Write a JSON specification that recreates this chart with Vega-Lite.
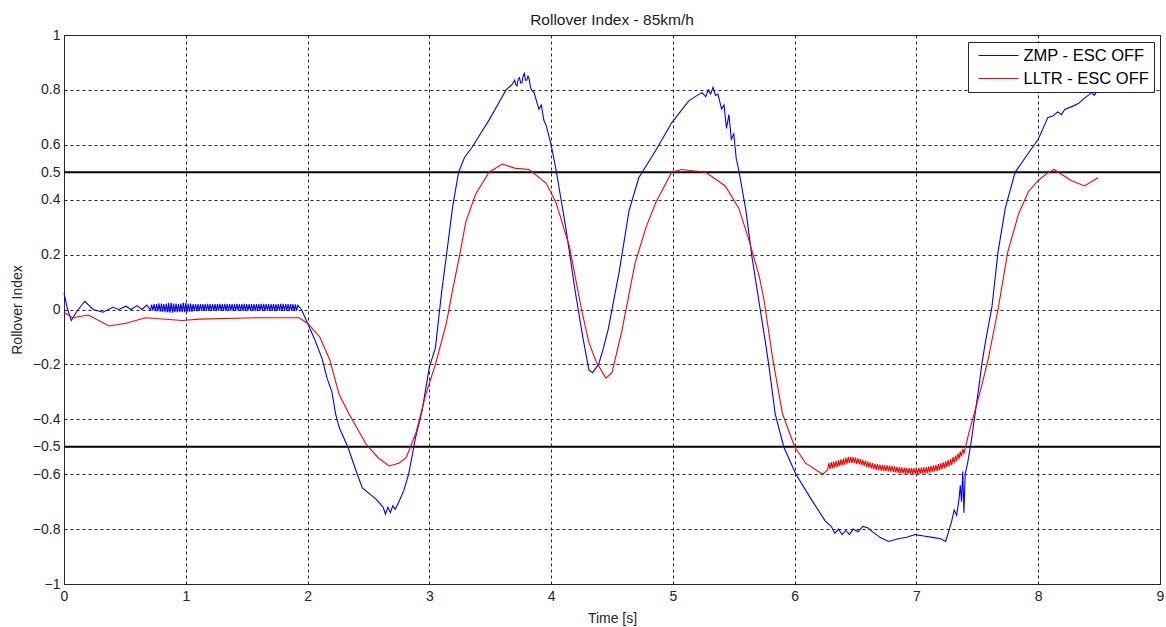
{
  "$schema": "https://vega.github.io/schema/vega-lite/v6.json",
  "width": 1096,
  "height": 549,
  "autosize": {"type": "none"},
  "padding": {"left": 64, "top": 35, "right": 6, "bottom": 43},
  "background": "white",
  "config": {
    "font": "Liberation Sans",
    "view": {"stroke": "#262626", "strokeWidth": 1},
    "axis": {"labelFont": "Liberation Sans", "titleFont": "Liberation Sans", "labelFontSize": 14, "titleFontSize": 14, "titleFontWeight": "normal", "labelColor": "#262626", "titleColor": "#262626", "domainColor": "#262626", "ticks": false, "gridColor": "#262626", "gridDash": [3, 3], "gridWidth": 1, "gridOpacity": 1}
  },
  "title": {"text": "Rollover Index - 85km/h", "font": "Liberation Sans", "fontSize": 15.5, "fontWeight": "normal", "color": "#1a1a1a", "offset": 0},
  "datasets": {
    "zmp": [
      {"t": 0, "v": 0.06}, {"t": 0.03, "v": 0.0}, {"t": 0.06, "v": -0.04}, {"t": 0.1, "v": -0.01},
      {"t": 0.17, "v": 0.03}, {"t": 0.24, "v": 0.0}, {"t": 0.32, "v": -0.01}, {"t": 0.4, "v": 0.008},
      {"t": 0.45, "v": 0.0}, {"t": 0.51, "v": 0.012}, {"t": 0.55, "v": 0.0}, {"t": 0.6, "v": 0.014},
      {"t": 0.64, "v": 0.0}, {"t": 0.68, "v": 0.016}, {"t": 0.71, "v": -0.002},
      {"t": 0.72, "v": 0.018}, {"t": 0.73, "v": -0.004}, {"t": 0.74, "v": 0.02}, {"t": 0.75, "v": -0.006},
      {"t": 0.76, "v": 0.02}, {"t": 0.77, "v": -0.006}, {"t": 0.78, "v": 0.022}, {"t": 0.79, "v": -0.008},
      {"t": 0.8, "v": 0.022}, {"t": 0.81, "v": -0.008}, {"t": 0.82, "v": 0.02}, {"t": 0.83, "v": -0.01},
      {"t": 0.84, "v": 0.022}, {"t": 0.85, "v": -0.01}, {"t": 0.86, "v": 0.024}, {"t": 0.87, "v": -0.012},
      {"t": 0.88, "v": 0.024}, {"t": 0.89, "v": -0.012}, {"t": 0.9, "v": 0.022}, {"t": 0.91, "v": -0.01},
      {"t": 0.92, "v": 0.022}, {"t": 0.93, "v": -0.01}, {"t": 0.94, "v": 0.02}, {"t": 0.95, "v": -0.008},
      {"t": 0.96, "v": 0.022}, {"t": 0.97, "v": -0.01}, {"t": 0.98, "v": 0.024}, {"t": 0.99, "v": -0.01},
      {"t": 1.0, "v": 0.024}, {"t": 1.01, "v": -0.01}, {"t": 1.02, "v": 0.022}, {"t": 1.03, "v": -0.008},
      {"t": 1.04, "v": 0.022}, {"t": 1.05, "v": -0.008}, {"t": 1.06, "v": 0.02}, {"t": 1.07, "v": -0.006},
      {"t": 1.08, "v": 0.02}, {"t": 1.09, "v": -0.006}, {"t": 1.1, "v": 0.02}, {"t": 1.11, "v": -0.005},
      {"t": 1.12, "v": 0.02}, {"t": 1.13, "v": -0.005}, {"t": 1.14, "v": 0.02}, {"t": 1.15, "v": -0.005},
      {"t": 1.16, "v": 0.02}, {"t": 1.17, "v": -0.005}, {"t": 1.18, "v": 0.021}, {"t": 1.19, "v": -0.004},
      {"t": 1.2, "v": 0.02}, {"t": 1.21, "v": -0.004}, {"t": 1.22, "v": 0.02}, {"t": 1.23, "v": -0.005},
      {"t": 1.24, "v": 0.02}, {"t": 1.25, "v": -0.005}, {"t": 1.26, "v": 0.02}, {"t": 1.27, "v": -0.004},
      {"t": 1.28, "v": 0.021}, {"t": 1.29, "v": -0.004}, {"t": 1.3, "v": 0.02}, {"t": 1.31, "v": -0.005},
      {"t": 1.32, "v": 0.021}, {"t": 1.33, "v": -0.005}, {"t": 1.34, "v": 0.02}, {"t": 1.35, "v": -0.004},
      {"t": 1.36, "v": 0.02}, {"t": 1.37, "v": -0.004}, {"t": 1.38, "v": 0.02}, {"t": 1.39, "v": -0.005},
      {"t": 1.4, "v": 0.02}, {"t": 1.41, "v": -0.005}, {"t": 1.42, "v": 0.021}, {"t": 1.43, "v": -0.004},
      {"t": 1.44, "v": 0.02}, {"t": 1.45, "v": -0.004}, {"t": 1.46, "v": 0.02}, {"t": 1.47, "v": -0.005},
      {"t": 1.48, "v": 0.021}, {"t": 1.49, "v": -0.005}, {"t": 1.5, "v": 0.02}, {"t": 1.51, "v": -0.004},
      {"t": 1.52, "v": 0.02}, {"t": 1.53, "v": -0.004}, {"t": 1.54, "v": 0.02}, {"t": 1.55, "v": -0.005},
      {"t": 1.56, "v": 0.02}, {"t": 1.57, "v": -0.005}, {"t": 1.58, "v": 0.02}, {"t": 1.59, "v": -0.004},
      {"t": 1.6, "v": 0.02}, {"t": 1.61, "v": -0.004}, {"t": 1.62, "v": 0.021}, {"t": 1.63, "v": -0.005},
      {"t": 1.64, "v": 0.021}, {"t": 1.65, "v": -0.005}, {"t": 1.66, "v": 0.02}, {"t": 1.67, "v": -0.004},
      {"t": 1.68, "v": 0.02}, {"t": 1.69, "v": -0.004}, {"t": 1.7, "v": 0.02}, {"t": 1.71, "v": -0.005},
      {"t": 1.72, "v": 0.02}, {"t": 1.73, "v": -0.005}, {"t": 1.74, "v": 0.02}, {"t": 1.75, "v": -0.004},
      {"t": 1.76, "v": 0.02}, {"t": 1.77, "v": -0.004}, {"t": 1.78, "v": 0.021}, {"t": 1.79, "v": -0.005},
      {"t": 1.8, "v": 0.021}, {"t": 1.81, "v": -0.005}, {"t": 1.82, "v": 0.02}, {"t": 1.83, "v": -0.004},
      {"t": 1.84, "v": 0.02}, {"t": 1.85, "v": -0.004}, {"t": 1.86, "v": 0.02}, {"t": 1.87, "v": -0.005},
      {"t": 1.88, "v": 0.02}, {"t": 1.89, "v": -0.005}, {"t": 1.9, "v": 0.019}, {"t": 1.91, "v": -0.004},
      {"t": 1.92, "v": 0.016},
      {"t": 1.95, "v": 0.0}, {"t": 2.0, "v": -0.05}, {"t": 2.06, "v": -0.11}, {"t": 2.12, "v": -0.18},
      {"t": 2.16, "v": -0.25}, {"t": 2.2, "v": -0.30}, {"t": 2.23, "v": -0.38}, {"t": 2.26, "v": -0.43},
      {"t": 2.33, "v": -0.50}, {"t": 2.4, "v": -0.59}, {"t": 2.45, "v": -0.65}, {"t": 2.56, "v": -0.69},
      {"t": 2.62, "v": -0.72}, {"t": 2.64, "v": -0.745}, {"t": 2.66, "v": -0.72}, {"t": 2.68, "v": -0.74},
      {"t": 2.7, "v": -0.715}, {"t": 2.72, "v": -0.728}, {"t": 2.75, "v": -0.70}, {"t": 2.79, "v": -0.66},
      {"t": 2.83, "v": -0.60}, {"t": 2.89, "v": -0.46}, {"t": 2.94, "v": -0.37}, {"t": 3.0, "v": -0.21},
      {"t": 3.05, "v": -0.14}, {"t": 3.1, "v": 0.06}, {"t": 3.15, "v": 0.23}, {"t": 3.19, "v": 0.37},
      {"t": 3.24, "v": 0.50}, {"t": 3.29, "v": 0.555}, {"t": 3.35, "v": 0.59}, {"t": 3.42, "v": 0.64}, {"t": 3.49, "v": 0.69},
      {"t": 3.56, "v": 0.745}, {"t": 3.63, "v": 0.80}, {"t": 3.68, "v": 0.82}, {"t": 3.7, "v": 0.835},
      {"t": 3.71, "v": 0.82}, {"t": 3.72, "v": 0.815}, {"t": 3.73, "v": 0.84}, {"t": 3.74, "v": 0.845}, {"t": 3.75, "v": 0.825},
      {"t": 3.76, "v": 0.825}, {"t": 3.77, "v": 0.85}, {"t": 3.78, "v": 0.86}, {"t": 3.79, "v": 0.835},
      {"t": 3.8, "v": 0.835}, {"t": 3.81, "v": 0.85}, {"t": 3.82, "v": 0.84}, {"t": 3.83, "v": 0.81}, {"t": 3.84, "v": 0.80}, {"t": 3.86, "v": 0.79},
      {"t": 3.88, "v": 0.76}, {"t": 3.9, "v": 0.73}, {"t": 3.92, "v": 0.745}, {"t": 3.94, "v": 0.69},
      {"t": 3.96, "v": 0.67}, {"t": 4.0, "v": 0.60}, {"t": 4.04, "v": 0.51}, {"t": 4.12, "v": 0.30},
      {"t": 4.2, "v": 0.06}, {"t": 4.26, "v": -0.10}, {"t": 4.31, "v": -0.22}, {"t": 4.34, "v": -0.23},
      {"t": 4.39, "v": -0.20}, {"t": 4.43, "v": -0.14}, {"t": 4.47, "v": -0.07}, {"t": 4.56, "v": 0.14},
      {"t": 4.64, "v": 0.36}, {"t": 4.72, "v": 0.48}, {"t": 4.86, "v": 0.58}, {"t": 4.99, "v": 0.68},
      {"t": 5.13, "v": 0.76}, {"t": 5.2, "v": 0.78}, {"t": 5.24, "v": 0.79}, {"t": 5.27, "v": 0.775},
      {"t": 5.29, "v": 0.80}, {"t": 5.31, "v": 0.785}, {"t": 5.33, "v": 0.81}, {"t": 5.35, "v": 0.78},
      {"t": 5.37, "v": 0.785}, {"t": 5.4, "v": 0.73}, {"t": 5.42, "v": 0.745}, {"t": 5.44, "v": 0.66},
      {"t": 5.46, "v": 0.71}, {"t": 5.48, "v": 0.62}, {"t": 5.5, "v": 0.64}, {"t": 5.52, "v": 0.55},
      {"t": 5.54, "v": 0.51}, {"t": 5.6, "v": 0.36}, {"t": 5.65, "v": 0.19}, {"t": 5.71, "v": 0.02},
      {"t": 5.76, "v": -0.12}, {"t": 5.79, "v": -0.21}, {"t": 5.84, "v": -0.38}, {"t": 5.91, "v": -0.50},
      {"t": 6.01, "v": -0.60}, {"t": 6.12, "v": -0.68}, {"t": 6.25, "v": -0.77}, {"t": 6.3, "v": -0.79},
      {"t": 6.33, "v": -0.815}, {"t": 6.36, "v": -0.80}, {"t": 6.39, "v": -0.82}, {"t": 6.42, "v": -0.805},
      {"t": 6.45, "v": -0.82}, {"t": 6.48, "v": -0.80}, {"t": 6.52, "v": -0.81}, {"t": 6.56, "v": -0.79},
      {"t": 6.6, "v": -0.795}, {"t": 6.64, "v": -0.81}, {"t": 6.7, "v": -0.83}, {"t": 6.77, "v": -0.845},
      {"t": 6.85, "v": -0.835}, {"t": 6.92, "v": -0.83}, {"t": 6.99, "v": -0.82}, {"t": 7.06, "v": -0.825},
      {"t": 7.13, "v": -0.83}, {"t": 7.2, "v": -0.835}, {"t": 7.24, "v": -0.845}, {"t": 7.29, "v": -0.77},
      {"t": 7.31, "v": -0.73}, {"t": 7.33, "v": -0.75}, {"t": 7.35, "v": -0.69}, {"t": 7.36, "v": -0.64},
      {"t": 7.37, "v": -0.70}, {"t": 7.38, "v": -0.59}, {"t": 7.39, "v": -0.74}, {"t": 7.4, "v": -0.60},
      {"t": 7.42, "v": -0.56}, {"t": 7.45, "v": -0.48}, {"t": 7.51, "v": -0.29}, {"t": 7.54, "v": -0.19},
      {"t": 7.57, "v": -0.11}, {"t": 7.62, "v": 0.01}, {"t": 7.67, "v": 0.21}, {"t": 7.73, "v": 0.37},
      {"t": 7.81, "v": 0.50}, {"t": 7.92, "v": 0.57}, {"t": 8.0, "v": 0.62}, {"t": 8.08, "v": 0.70},
      {"t": 8.12, "v": 0.705}, {"t": 8.16, "v": 0.72}, {"t": 8.19, "v": 0.71}, {"t": 8.22, "v": 0.73},
      {"t": 8.28, "v": 0.74}, {"t": 8.33, "v": 0.75}, {"t": 8.38, "v": 0.77}, {"t": 8.44, "v": 0.79},
      {"t": 8.46, "v": 0.78}, {"t": 8.49, "v": 0.80}
    ],
    "lltr": [
      {"t": 0, "v": -0.01}, {"t": 0.07, "v": -0.03}, {"t": 0.2, "v": -0.02}, {"t": 0.37, "v": -0.06},
      {"t": 0.51, "v": -0.05}, {"t": 0.67, "v": -0.03}, {"t": 0.97, "v": -0.04}, {"t": 1.11, "v": -0.035},
      {"t": 1.6, "v": -0.03}, {"t": 1.93, "v": -0.03}, {"t": 2.0, "v": -0.05}, {"t": 2.1, "v": -0.10},
      {"t": 2.18, "v": -0.18}, {"t": 2.26, "v": -0.31}, {"t": 2.34, "v": -0.38}, {"t": 2.48, "v": -0.49},
      {"t": 2.58, "v": -0.54}, {"t": 2.67, "v": -0.57}, {"t": 2.75, "v": -0.56}, {"t": 2.81, "v": -0.54}, {"t": 2.89, "v": -0.45},
      {"t": 2.97, "v": -0.31}, {"t": 3.05, "v": -0.20}, {"t": 3.14, "v": -0.05}, {"t": 3.19, "v": 0.07},
      {"t": 3.25, "v": 0.20}, {"t": 3.3, "v": 0.32}, {"t": 3.38, "v": 0.42}, {"t": 3.49, "v": 0.50},
      {"t": 3.6, "v": 0.53}, {"t": 3.7, "v": 0.515}, {"t": 3.82, "v": 0.51}, {"t": 3.96, "v": 0.46}, {"t": 4.04, "v": 0.39},
      {"t": 4.15, "v": 0.23}, {"t": 4.25, "v": 0.0}, {"t": 4.31, "v": -0.12}, {"t": 4.37, "v": -0.19},
      {"t": 4.45, "v": -0.25}, {"t": 4.5, "v": -0.23}, {"t": 4.58, "v": -0.08}, {"t": 4.69, "v": 0.17},
      {"t": 4.78, "v": 0.30}, {"t": 4.86, "v": 0.39}, {"t": 4.99, "v": 0.50}, {"t": 5.07, "v": 0.51},
      {"t": 5.27, "v": 0.50}, {"t": 5.43, "v": 0.45}, {"t": 5.54, "v": 0.37}, {"t": 5.62, "v": 0.26},
      {"t": 5.71, "v": 0.12}, {"t": 5.75, "v": 0.03}, {"t": 5.82, "v": -0.18}, {"t": 5.9, "v": -0.38},
      {"t": 6.0, "v": -0.50}, {"t": 6.09, "v": -0.56}, {"t": 6.23, "v": -0.60}, {"t": 6.27, "v": -0.585},
      {"t": 6.28, "v": -0.56}, {"t": 6.29, "v": -0.582}, {"t": 6.3, "v": -0.556}, {"t": 6.31, "v": -0.578},
      {"t": 6.32, "v": -0.554}, {"t": 6.33, "v": -0.576}, {"t": 6.34, "v": -0.552}, {"t": 6.35, "v": -0.574},
      {"t": 6.36, "v": -0.549}, {"t": 6.37, "v": -0.571}, {"t": 6.38, "v": -0.546}, {"t": 6.39, "v": -0.568},
      {"t": 6.4, "v": -0.543}, {"t": 6.41, "v": -0.565}, {"t": 6.42, "v": -0.54}, {"t": 6.43, "v": -0.562},
      {"t": 6.44, "v": -0.537}, {"t": 6.45, "v": -0.559}, {"t": 6.46, "v": -0.537}, {"t": 6.47, "v": -0.559},
      {"t": 6.48, "v": -0.538}, {"t": 6.49, "v": -0.56}, {"t": 6.5, "v": -0.54}, {"t": 6.51, "v": -0.562},
      {"t": 6.52, "v": -0.542}, {"t": 6.53, "v": -0.564}, {"t": 6.54, "v": -0.545}, {"t": 6.55, "v": -0.567},
      {"t": 6.56, "v": -0.548}, {"t": 6.57, "v": -0.57}, {"t": 6.58, "v": -0.551}, {"t": 6.59, "v": -0.573},
      {"t": 6.6, "v": -0.554}, {"t": 6.61, "v": -0.576}, {"t": 6.62, "v": -0.557}, {"t": 6.63, "v": -0.579},
      {"t": 6.64, "v": -0.56}, {"t": 6.65, "v": -0.582}, {"t": 6.66, "v": -0.562}, {"t": 6.67, "v": -0.584},
      {"t": 6.68, "v": -0.563}, {"t": 6.69, "v": -0.585}, {"t": 6.7, "v": -0.565}, {"t": 6.71, "v": -0.587},
      {"t": 6.72, "v": -0.566}, {"t": 6.73, "v": -0.588}, {"t": 6.74, "v": -0.567}, {"t": 6.75, "v": -0.589},
      {"t": 6.76, "v": -0.568}, {"t": 6.77, "v": -0.59}, {"t": 6.78, "v": -0.569}, {"t": 6.79, "v": -0.591},
      {"t": 6.8, "v": -0.57}, {"t": 6.81, "v": -0.592}, {"t": 6.82, "v": -0.571}, {"t": 6.83, "v": -0.593},
      {"t": 6.84, "v": -0.573}, {"t": 6.85, "v": -0.595}, {"t": 6.86, "v": -0.574}, {"t": 6.87, "v": -0.596},
      {"t": 6.88, "v": -0.575}, {"t": 6.89, "v": -0.597}, {"t": 6.9, "v": -0.576}, {"t": 6.91, "v": -0.598},
      {"t": 6.92, "v": -0.577}, {"t": 6.93, "v": -0.599}, {"t": 6.94, "v": -0.578}, {"t": 6.95, "v": -0.6},
      {"t": 6.96, "v": -0.578}, {"t": 6.97, "v": -0.6}, {"t": 6.98, "v": -0.578}, {"t": 6.99, "v": -0.6},
      {"t": 7.0, "v": -0.578}, {"t": 7.01, "v": -0.6}, {"t": 7.02, "v": -0.577}, {"t": 7.03, "v": -0.599},
      {"t": 7.04, "v": -0.576}, {"t": 7.05, "v": -0.598}, {"t": 7.06, "v": -0.575}, {"t": 7.07, "v": -0.597},
      {"t": 7.08, "v": -0.574}, {"t": 7.09, "v": -0.596}, {"t": 7.1, "v": -0.572}, {"t": 7.11, "v": -0.594},
      {"t": 7.12, "v": -0.57}, {"t": 7.13, "v": -0.592}, {"t": 7.14, "v": -0.568}, {"t": 7.15, "v": -0.59},
      {"t": 7.16, "v": -0.566}, {"t": 7.17, "v": -0.588}, {"t": 7.18, "v": -0.563}, {"t": 7.19, "v": -0.585},
      {"t": 7.2, "v": -0.56}, {"t": 7.21, "v": -0.582}, {"t": 7.22, "v": -0.557}, {"t": 7.23, "v": -0.579},
      {"t": 7.24, "v": -0.553}, {"t": 7.25, "v": -0.575}, {"t": 7.26, "v": -0.549}, {"t": 7.27, "v": -0.571},
      {"t": 7.28, "v": -0.544}, {"t": 7.29, "v": -0.566}, {"t": 7.3, "v": -0.538}, {"t": 7.31, "v": -0.56},
      {"t": 7.32, "v": -0.532}, {"t": 7.33, "v": -0.552}, {"t": 7.34, "v": -0.525}, {"t": 7.35, "v": -0.544},
      {"t": 7.36, "v": -0.517}, {"t": 7.37, "v": -0.535}, {"t": 7.38, "v": -0.508}, {"t": 7.39, "v": -0.525},
      {"t": 7.43, "v": -0.45}, {"t": 7.48, "v": -0.37}, {"t": 7.54, "v": -0.27}, {"t": 7.59, "v": -0.18},
      {"t": 7.67, "v": 0.0}, {"t": 7.75, "v": 0.21}, {"t": 7.84, "v": 0.35}, {"t": 7.92, "v": 0.43},
      {"t": 8.0, "v": 0.47}, {"t": 8.07, "v": 0.495}, {"t": 8.13, "v": 0.51}, {"t": 8.2, "v": 0.49}, {"t": 8.27, "v": 0.47},
      {"t": 8.38, "v": 0.45}, {"t": 8.49, "v": 0.48}
    ],
    "limits": [{"y": 0.5}, {"y": -0.5}]
  },
  "layer": [
    {
      "data": {"name": "limits"},
      "mark": {"type": "rule", "color": "#000000", "strokeWidth": 2},
      "encoding": {
        "y": {"field": "y", "type": "quantitative", "scale": {"domain": [-1, 1], "nice": false, "zero": false}}
      }
    },
    {
      "data": {"name": "zmp"},
      "transform": [{"calculate": "'ZMP - ESC OFF'", "as": "s"}],
      "mark": {"type": "line", "strokeWidth": 1.1},
      "encoding": {
        "x": {"field": "t", "type": "quantitative", "title": "Time [s]", "scale": {"domain": [0, 9], "nice": false, "zero": false},
          "axis": {"values": [0, 1, 2, 3, 4, 5, 6, 7, 8, 9], "format": "d", "labelPadding": 5, "titlePadding": 8, "labelFlush": false}},
        "y": {"field": "v", "type": "quantitative", "title": "Rollover Index", "scale": {"domain": [-1, 1], "nice": false, "zero": false},
          "axis": {"values": [-1, -0.8, -0.6, -0.5, -0.4, -0.2, 0, 0.2, 0.4, 0.5, 0.6, 0.8, 1], "format": "~g", "labelPadding": 4, "titlePadding": 8, "labelFlush": false,
            "gridOpacity": {"condition": {"test": "abs(datum.value) == 0.5", "value": 0}, "value": 1}}},
        "color": {"field": "s", "type": "nominal",
          "scale": {"domain": ["ZMP - ESC OFF", "LLTR - ESC OFF"], "range": ["#0000ff", "#ff0000"]},
          "legend": {"title": null, "orient": "none", "legendX": 904, "legendY": 7,
            "symbolType": "M-2.5,0L2.5,0", "symbolSize": 256, "symbolStrokeWidth": 1.2, "symbolOffset": 17,
            "labelFontSize": 16.5, "labelFont": "Liberation Sans", "labelColor": "#000000", "labelOffset": 16,
            "labelExpr": "datum.label + '  '",
            "strokeColor": "#262626", "fillColor": "white", "padding": 4.5, "rowPadding": 5}},
        "order": {"field": "t"}
      }
    },
    {
      "data": {"name": "lltr"},
      "transform": [{"calculate": "'LLTR - ESC OFF'", "as": "s"}],
      "mark": {"type": "line", "strokeWidth": 1.1},
      "encoding": {
        "x": {"field": "t", "type": "quantitative"},
        "y": {"field": "v", "type": "quantitative"},
        "color": {"field": "s", "type": "nominal"},
        "order": {"field": "t"}
      }
    }
  ]
}
